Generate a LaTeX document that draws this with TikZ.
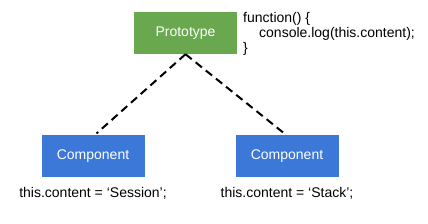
\documentclass[tikz,border=0pt]{standalone}
\usepackage{fontspec}
\setmainfont{Liberation Sans}
\usetikzlibrary{positioning}
\definecolor{protogreen}{HTML}{6AA84F}
\definecolor{compblue}{HTML}{3C78D8}

\begin{document}
\begin{tikzpicture}[x=1pt, y=-1pt,
    box/.style={minimum width=103pt, minimum height=42pt, inner sep=0pt, text=white,
      font=\fontsize{14}{16}\selectfont},
    code/.style={inner sep=0pt, font=\fontsize{14}{15}\selectfont},
    link/.style={dash pattern=on 8pt off 5pt, line width=2pt, shorten >=2pt}]
  \useasboundingbox (0,0) rectangle (428,224);

  % prototype with its shared function
  \node[box, fill=protogreen] (proto) at (185.5,33) {Prototype};
  \node[code, anchor=north west, align=left] (func) at (243,12)
    {function() \{\\\hspace*{16pt}console.log(this.content);\\\}};

  % the two components
  \node[box, fill=compblue] (compA) at (93,156) {Component};
  \node[box, fill=compblue] (compB) at (287,156) {Component};
  \node[code, below=10pt of compA] (contentA) {this.content = ‘Session’;};
  \node[code, below=10pt of compB] (contentB) {this.content = ‘Stack’;};

  % dashed links to the prototype
  \draw[link] (proto.south) -- (compA.north -| 95,0);
  \draw[link] (proto.south) -- (compB.north -| 286,0);
\end{tikzpicture}
\end{document}
